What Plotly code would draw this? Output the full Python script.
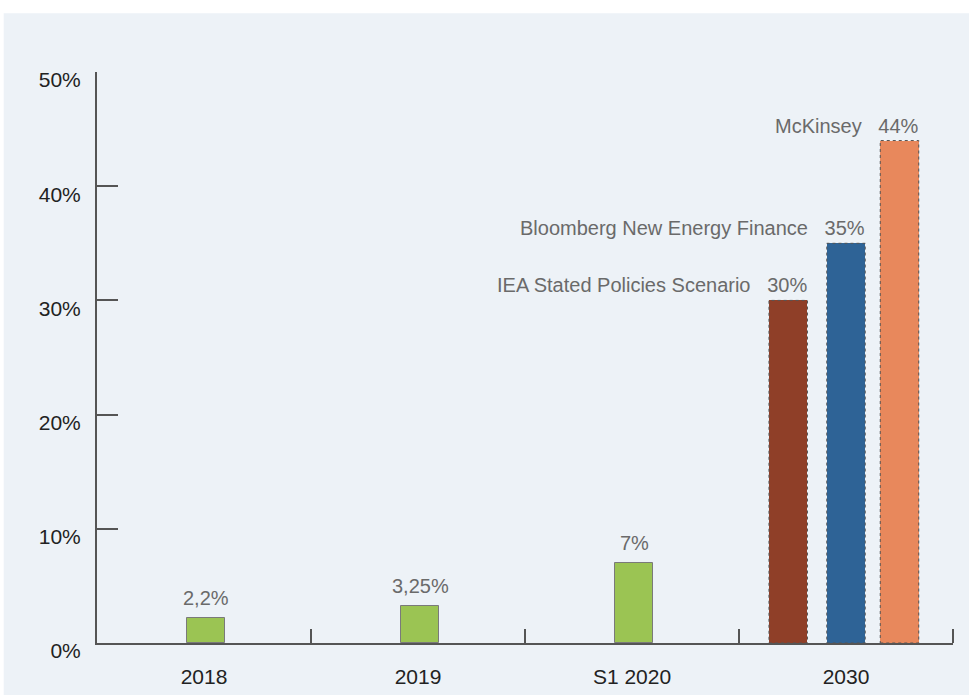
import plotly.graph_objects as go

# ---- data ----
categories = ["2018", "2019", "S1 2020", "2030"]
hist_labels = ["2,2%", "3,25%", "7%"]
hist_values = [2.2, 3.25, 7.0]
scen_names = ["IEA Stated Policies Scenario", "Bloomberg New Energy Finance", "McKinsey"]
scen_values = [30, 35, 44]
scen_labels = ["30%", "35%", "44%"]
scen_colors = ["#8F3F28", "#2E6396", "#E8885C"]
y_ticks = [0, 10, 20, 30, 40, 50]
y_tick_text = ["0%", "10%", "20%", "30%", "40%", "50%"]

# ---- layout helpers ----
BAR_W = 0.18
scen_offsets = [-0.27, 0.0, 0.25]
hist_offset = 0.01
cat_centers = [i + 0.5 for i in range(len(categories))]
hist_x = [c + hist_offset for c in cat_centers[:3]]
scen_x = [cat_centers[3] + o for o in scen_offsets]

FONT = "Liberation Sans, Arial, Helvetica, sans-serif"

fig = go.Figure()

fig.add_trace(go.Bar(
    x=hist_x, y=hist_values, width=BAR_W,
    marker=dict(color="#9BC453", line=dict(color="#7a7a7a", width=1)),
    hoverinfo="skip", showlegend=False,
))

for xv, v, c, n in zip(scen_x, scen_values, scen_colors, scen_names):
    fig.add_trace(go.Bar(
        x=[xv], y=[v], width=BAR_W, name=n,
        marker=dict(color=c, line=dict(width=0)),
        hoverinfo="skip", showlegend=False,
    ))

shapes = [
    dict(type="rect", xref="paper", yref="paper", x0=-0.109, x1=1.02, y0=-0.095, y1=1.103,
         fillcolor="#EDF2F7", line=dict(width=0), layer="below"),
]
for xv, v in zip(scen_x, scen_values):
    shapes.append(dict(type="rect", xref="x", yref="y",
                       x0=xv - BAR_W / 2, x1=xv + BAR_W / 2, y0=0, y1=v,
                       line=dict(color="#555555", width=1, dash="dot"), layer="above"))

annotations = []
for xv, v, t in zip(hist_x, hist_values, hist_labels):
    annotations.append(dict(x=xv, y=v, text=t, showarrow=False, xanchor="center",
                            yanchor="middle", yshift=20,
                            font=dict(family=FONT, size=20, color="#6a6a6a")))
for xv, v, t, n in zip(scen_x, scen_values, scen_labels, scen_names):
    annotations.append(dict(x=xv + BAR_W / 2, y=v, text=n + "&nbsp;&nbsp;&nbsp;" + t,
                            showarrow=False, xanchor="right", yanchor="middle",
                            yshift=15, xshift=2,
                            font=dict(family=FONT, size=20, color="#6a6a6a")))

fig.update_layout(
    width=969, height=695,
    margin=dict(l=97, r=16, t=72, b=52),
    paper_bgcolor="white",
    plot_bgcolor="rgba(0,0,0,0)",
    shapes=shapes,
    annotations=annotations,
    bargap=0,
    xaxis=dict(
        range=[0, 4], tickvals=cat_centers, ticktext=categories,
        ticks="", showgrid=False, zeroline=False, automargin=False,
        showline=True, linecolor="#555555", linewidth=2,
        tickfont=dict(family=FONT, size=21, color="#222222"),
        ticklabelstandoff=14,
        minor=dict(tickvals=[1, 2, 3, 4], ticks="inside", ticklen=14,
                   tickcolor="#555555", tickwidth=2, showgrid=False),
        fixedrange=True,
    ),
    yaxis=dict(
        range=[0, 50], tickvals=y_ticks, ticktext=y_tick_text,
        ticks="inside", ticklen=21, tickcolor="#555555", tickwidth=2,
        showgrid=False, zeroline=False, automargin=False,
        showline=True, linecolor="#555555", linewidth=2,
        tickfont=dict(family=FONT, size=21, color="#222222"),
        ticklabelstandoff=10, ticklabelshift=8,
        fixedrange=True,
    ),
)

fig.write_html("out.html", config={"displayModeBar": False},
               post_script="document.body.style.margin='0';document.body.style.overflow='hidden';")
